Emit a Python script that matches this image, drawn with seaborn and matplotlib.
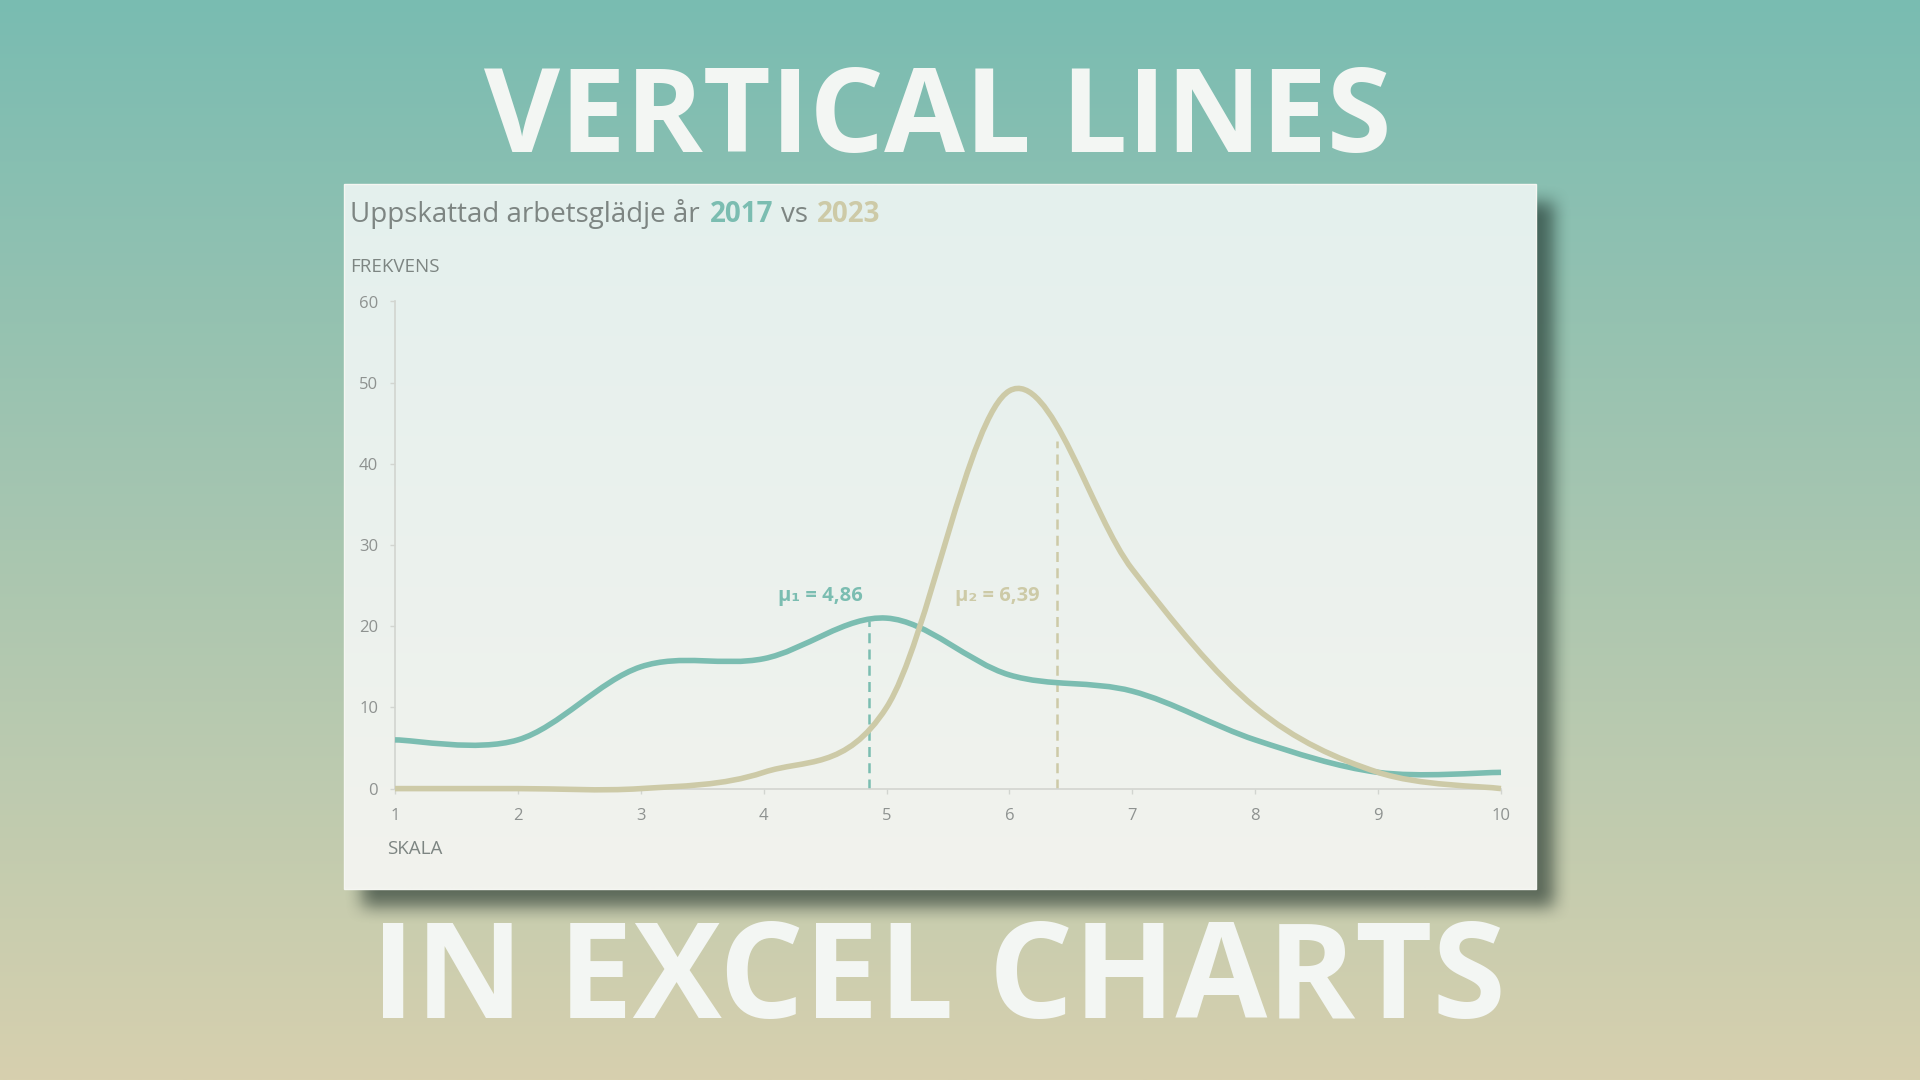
"""
Excel-style smoothed frequency curves with vertical mean lines,
laid out as a thumbnail: gradient backdrop, shadowed card, big headline.
"""

import matplotlib
matplotlib.use("Agg")
import matplotlib.pyplot as plt
import numpy as np
import seaborn as sns
from matplotlib.patches import PathPatch, Rectangle
from matplotlib.path import Path

# --- data -----------------------------------------------------------------
SCALE = [1, 2, 3, 4, 5, 6, 7, 8, 9, 10]
FREQ_2017 = [6, 6, 15, 16, 21, 14, 12, 6, 2, 2]
FREQ_2023 = [0, 0, 0, 2, 10, 49, 27, 10, 2, 0]
MEAN_LINE_TOPS = [20.6, 42.8]      # where the dashed mean lines stop
Y_TICKS = [0, 10, 20, 30, 40, 50, 60]

TITLE_TOP = "VERTICAL LINES"
TITLE_BOTTOM = "IN EXCEL CHARTS"
CHART_TITLE = ["Uppskattad arbetsglädje år", "2017", "vs", "2023"]

# --- style ----------------------------------------------------------------
W, H = 1920, 1080
TEAL = "#7bbdb1"
SAND = "#cdcaa7"
GREY_TEXT = "#7d8582"
GREY_TICK = "#8e9290"
SPINE = "#d2d5d0"
HEAD_COLOR = "#f3f6f3"
PANEL = (344, 184, 1536, 889)  # left, top, right, bottom in px


def vertical_gradient(top_rgb, bottom_rgb, rows, cols=2):
    t = np.linspace(0, 1, rows)[:, None, None]
    top = np.array(top_rgb, float)[None, None, :] / 255
    bot = np.array(bottom_rgb, float)[None, None, :] / 255
    return np.repeat(top * (1 - t) + bot * t, cols, axis=1)


def box_blur(a, r):
    for axis in (0, 1):
        pad = [(0, 0), (0, 0)]
        pad[axis] = (r + 1, r)
        c = np.cumsum(np.pad(a, pad), axis=axis)
        n = a.shape[axis]
        a = (np.take(c, np.arange(2 * r + 1, 2 * r + 1 + n), axis=axis)
             - np.take(c, np.arange(0, n), axis=axis)) / (2 * r + 1)
    return a


def smooth_path(xs, ys):
    """Excel 'smoothed line': Catmull-Rom segments as cubic Beziers."""
    pts = np.column_stack([xs, ys]).astype(float)
    n = len(pts)
    verts, codes = [pts[0]], [Path.MOVETO]
    for i in range(n - 1):
        prev, nxt = pts[max(i - 1, 0)], pts[min(i + 2, n - 1)]
        c1 = pts[i] + (pts[i + 1] - prev) / 6
        c2 = pts[i + 1] - (nxt - pts[i]) / 6
        verts += [c1, c2, pts[i + 1]]
        codes += [Path.CURVE4] * 3
    return Path(verts, codes)


def fit_headline(fig, text, cx, baseline, width):
    t = fig.text(cx / W, 1 - baseline / H, text, ha="center", va="baseline",
                 fontsize=80, fontweight="bold", color=HEAD_COLOR,
                 family=["Open Sans", "DejaVu Sans"], zorder=5)
    w = t.get_window_extent(fig.canvas.get_renderer()).width
    t.set_fontsize(80 * width / w)
    return t


sns.set_theme(style="white")
plt.rcParams["font.family"] = ["Open Sans", "DejaVu Sans"]

fig = plt.figure(figsize=(W / 100, H / 100), dpi=100)

# backdrop, shadow and card
bg = fig.add_axes([0, 0, 1, 1], zorder=0)
bg.imshow(vertical_gradient((121, 188, 178), (215, 208, 174), H),
          extent=(0, W, H, 0), aspect="auto", interpolation="bilinear")

l, t, r, b = PANEL
mask = np.zeros((H, W))
mask[t + 18:b + 18, l + 18:r + 18] = 1.0
mask = box_blur(box_blur(mask, 9), 9)
shadow = np.zeros((H, W, 4))
shadow[..., :3] = np.array([22, 40, 34]) / 255
shadow[..., 3] = mask * 0.6
bg.imshow(shadow, extent=(0, W, H, 0), aspect="auto")

bg.imshow(vertical_gradient((228, 240, 237), (242, 243, 238), 200),
          extent=(l, r, b, t), aspect="auto", interpolation="bilinear")
bg.add_patch(Rectangle((l, t), r - l, b - t, fill=False, ec="#f5f6f2", lw=1))
bg.set_xlim(0, W)
bg.set_ylim(H, 0)
bg.axis("off")

fit_headline(fig, TITLE_TOP, 938, 152, 908)
fit_headline(fig, TITLE_BOTTOM, 938, 1018, 1135)

# chart title in four colours, each piece placed after the previous one
title_size = 20
prev = fig.text(350 / W, 1 - 222 / H, CHART_TITLE[0], fontsize=title_size,
                color=GREY_TEXT, va="baseline", zorder=5)
for word, color, weight, gap in [(CHART_TITLE[1], TEAL, "bold", 10),
                                 (CHART_TITLE[2], GREY_TEXT, "normal", 8),
                                 (CHART_TITLE[3], SAND, "bold", 9)]:
    prev = bg.annotate(word, xy=(1, 0), xycoords=prev, xytext=(gap, 0),
                       textcoords="offset pixels", va="bottom", ha="left",
                       fontsize=title_size, color=color, fontweight=weight,
                       annotation_clip=False)

fig.text(350 / W, 1 - 267 / H, "FREKVENS", fontsize=13.5, color=GREY_TEXT,
         va="center", zorder=5)
fig.text(387 / W, 1 - 849 / H, "SKALA", fontsize=13.5, color=GREY_TEXT,
         va="center", zorder=5)

# --- main plot ------------------------------------------------------------
ax = fig.add_axes([395 / W, 1 - 788.6 / H, 1106 / W, 487.1 / H], zorder=3)
ax.patch.set_alpha(0)

for ys, color in [(FREQ_2017, TEAL), (FREQ_2023, SAND)]:
    ax.add_patch(PathPatch(smooth_path(SCALE, ys), fill=False, ec=color,
                           lw=4, capstyle="butt", joinstyle="round",
                           clip_on=False, zorder=3))

label_x = [4.46, 5.90]
for i, (ys, color, top) in enumerate(zip([FREQ_2017, FREQ_2023], [TEAL, SAND],
                                         MEAN_LINE_TOPS)):
    mean = np.average(SCALE, weights=ys)
    sns.lineplot(x=[mean, mean], y=[0, top], ax=ax, color=color, lw=1.8,
                 linestyle=(0, (4, 2.5)), estimator=None, sort=False, zorder=2)
    sub = "₁" if i == 0 else "₂"
    ax.text(label_x[i], 23.7, f"μ{sub} = {mean:.2f}".replace(".", ","),
            ha="center", va="center", fontsize=14.5, fontweight="bold",
            color=color)

ax.set_xlim(1, 10)
ax.set_ylim(0, 60)
ax.set_xticks(SCALE)
ax.set_yticks(Y_TICKS)
ax.set_xlabel("")
ax.set_ylabel("")
sns.despine(ax=ax)
for side in ("left", "bottom"):
    ax.spines[side].set_color(SPINE)
    ax.spines[side].set_linewidth(1.2)
ax.tick_params(axis="both", bottom=True, left=True, length=3.6, width=1,
               color=SPINE, labelcolor=GREY_TICK, labelsize=12)
ax.tick_params(axis="y", pad=8.5)
ax.tick_params(axis="x", pad=10.5)

fig.savefig("out.png", dpi=100)
